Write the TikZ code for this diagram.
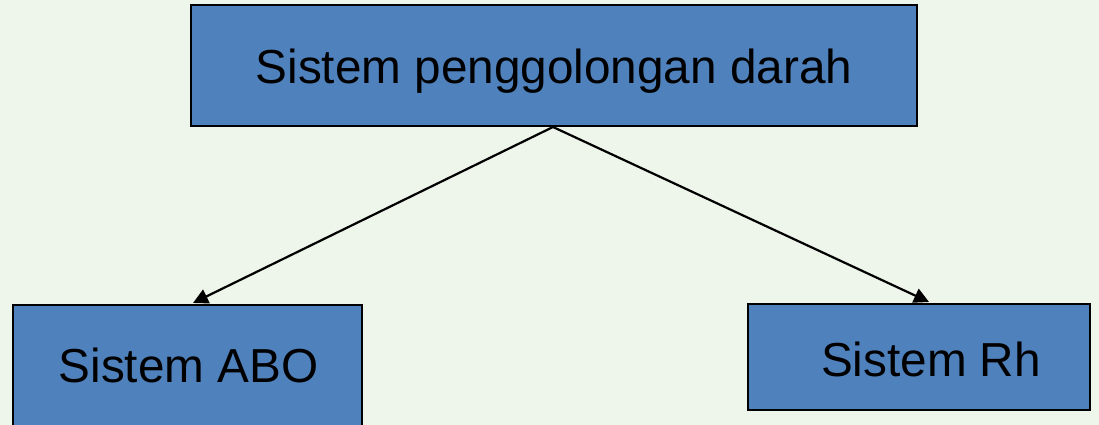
\documentclass[tikz,border=0pt]{standalone}
\usepackage{fontspec}
\setmainfont{Liberation Sans}
\usetikzlibrary{arrows.meta}
\definecolor{bgcol}{HTML}{EEF5EA}
\definecolor{boxblue}{HTML}{4F81BD}
\tikzset{
  box/.style={draw=black, line width=2pt, fill=boxblue, inner sep=0pt,
              text height=34.2pt, text depth=0pt,
              font=\fontsize{47.7}{52}\selectfont, text=black},
  link/.style={draw=black, line width=2.2pt, -{Triangle[length=15pt,width=15pt]}}
}
\begin{document}
\begin{tikzpicture}[x=1pt,y=1pt]
  \fill[bgcol] (0,0) rectangle (1099,425);
  \useasboundingbox (0,0) rectangle (1099,425);
  \begin{scope}
    \clip (0,0) rectangle (1099,425);
    \node[box, minimum width=726pt, minimum height=121pt] (root) at (554,359.5)
      {\raisebox{-1pt}{Sistem penggolongan darah}};
    \node[box, minimum width=349pt, minimum height=126pt] (abo) at (187,57)
      {\hspace*{3pt}\raisebox{2.5pt}{Sistem ABO}};
    \node[box, minimum width=342pt, minimum height=106pt] (rh) at (919,68)
      {\hspace*{24pt}\raisebox{-2.5pt}{Sistem Rh}};
  \end{scope}
  \coordinate (src) at ([xshift=-1pt]root.south);
  \coordinate (aboin) at ([xshift=6pt,yshift=1pt]abo.north);
  \coordinate (rhin) at ([xshift=10pt,yshift=1pt]rh.north);
  \draw[link] (src) -- (aboin);
  \draw[link] (src) -- (rhin);
\end{tikzpicture}
\end{document}
